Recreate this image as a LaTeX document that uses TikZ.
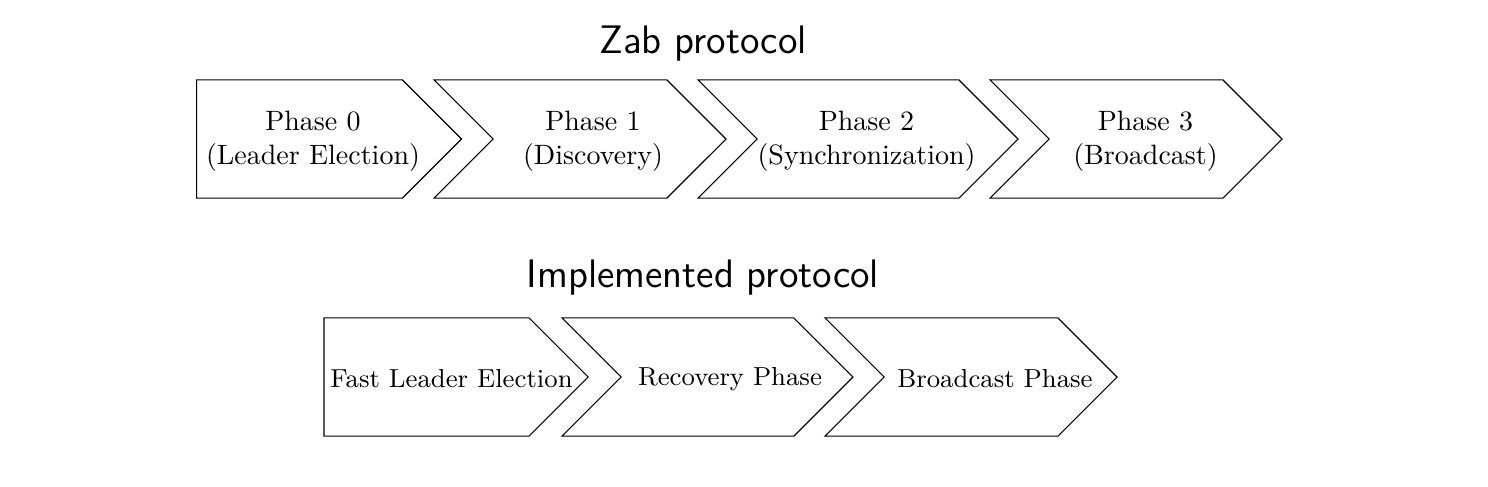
\documentclass[tikz,border=0pt]{standalone}
\usetikzlibrary{shapes.symbols}

\begin{document}
\begin{tikzpicture}[x=0.35714pt, y=-0.35714pt,
  phase/.style={signal, draw, signal to=east, signal from=west,
    minimum height=42.2pt, inner sep=0pt},
  first/.style={signal from=nowhere},
  phasetext/.style={align=center, inner sep=0pt, font=\fontsize{10}{12}\selectfont},
  lowtext/.style={inner sep=0pt, font=\fontsize{9.3}{11}\selectfont},
  title/.style={font=\fontsize{14.2}{17}\selectfont\sffamily, anchor=base}]

  % titles
  \node[title] (zab) at (703,53) {Zab protocol};
  \node[title] (impl) at (703,287) {Implemented protocol};

  % Zab phases
  \node[phase, first, minimum width=94.6pt] (p0) at (299.5,139) {};
  \node[phase, minimum width=104.3pt] (p1) at (580,139) {};
  \node[phase, minimum width=114.3pt] (p2) at (858,139) {};
  \node[phase, minimum width=104.3pt] (p3) at (1136,139) {};

  \node[phasetext] (t0) at (313,141) {Phase 0\\(Leader Election)};
  \node[phasetext] (t1) at (593,141) {Phase 1\\(Discovery)};
  \node[phasetext] (t2) at (866.5,141) {Phase 2\\(Synchronization)};
  \node[phasetext] (t3) at (1145.5,141) {Phase 3\\(Broadcast)};

  % implemented phases
  \node[phase, first, minimum width=94.3pt] (fle) at (426.5,377) {};
  \node[phase, minimum width=103.9pt] (rec) at (707.5,377) {};
  \node[phase, minimum width=104.3pt] (bc) at (971,377) {};

  \node[lowtext] (tfle) at (451.5,379) {Fast Leader Election};
  \node[lowtext] (trec) at (730,379) {Recovery Phase};
  \node[lowtext] (tbc) at (995,379) {Broadcast Phase};

  \pgfresetboundingbox
  \path[use as bounding box] (0,0) rectangle (1488,486);
\end{tikzpicture}
\end{document}
